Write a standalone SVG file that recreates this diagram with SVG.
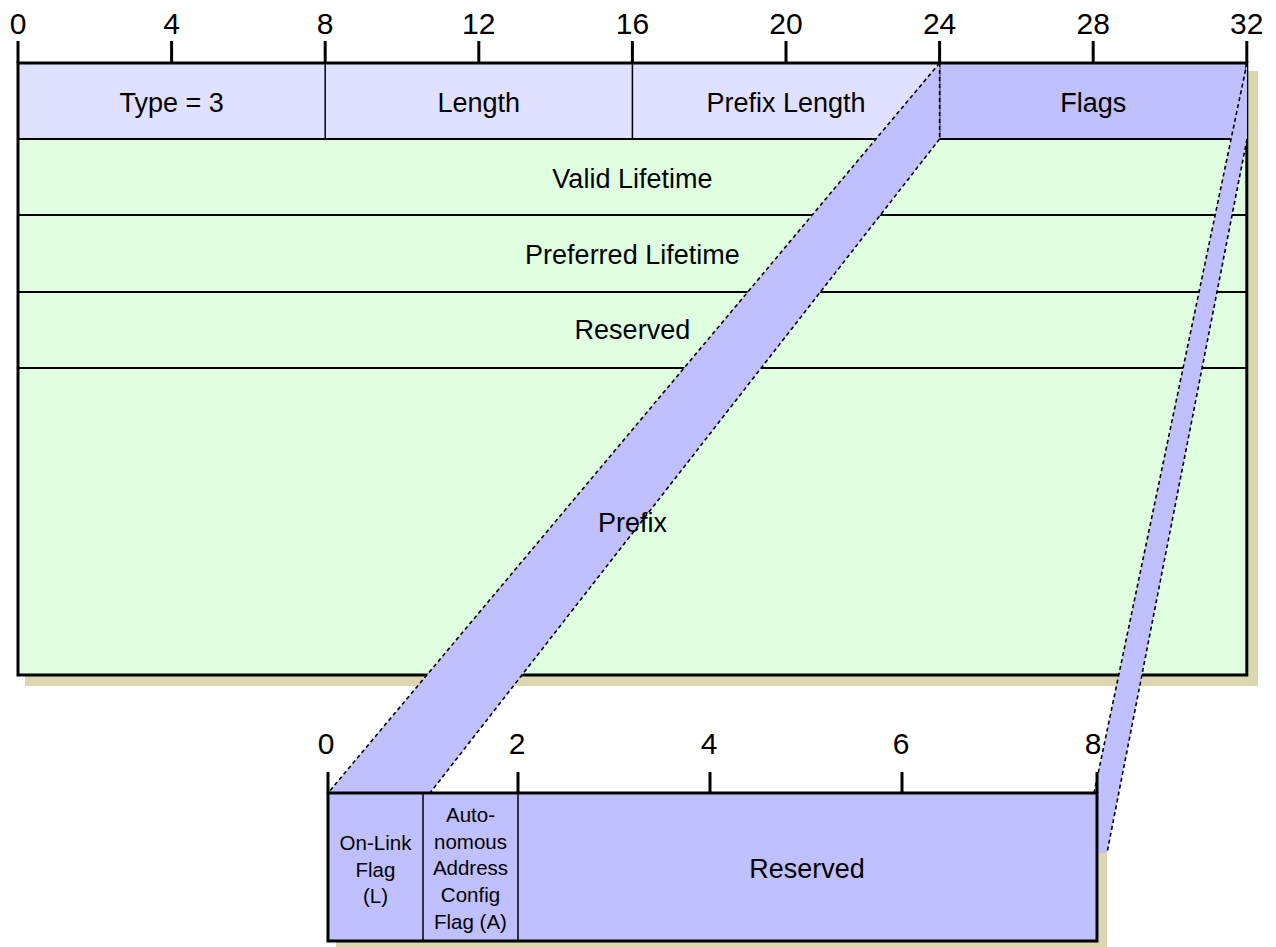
<svg xmlns="http://www.w3.org/2000/svg" width="1276" height="947" viewBox="0 0 1276 947">
<style>
text{font-family:"Liberation Sans",Arial,Helvetica,sans-serif;fill:#000;text-anchor:middle}
.num{font-size:30px}
.lbl{font-size:27px}
.sm{font-size:20.5px}
.shadow{fill:#dbd7b0}
.hdr{fill:#e0e0ff}
.flg{fill:#c0c0ff}
.row{fill:#e0ffe0}
.thin{stroke:#000;stroke-width:1.5;fill:none}
.rl{stroke:#000;stroke-width:2;fill:none}
.thick{stroke:#000;stroke-width:3;fill:none}
.tick{stroke:#000;stroke-width:3}
.band{fill:#c0c0ff;stroke:none}
.dash{stroke:#000;stroke-width:1.6;stroke-dasharray:4 3;fill:none}
</style>
<rect class="shadow" x="25" y="71" width="1233" height="615"/>
<rect class="shadow" x="336" y="801" width="771" height="160"/>
<g id="main-cells">
<rect class="hdr" x="18" y="63" width="921.6" height="76"/>
<rect class="flg" x="939.6" y="63" width="307.2" height="76"/>
<rect class="row" x="18" y="139" width="1228.8" height="536"/>
<line class="thin" x1="325.2" y1="63" x2="325.2" y2="139"/>
<line class="thin" x1="632.4" y1="63" x2="632.4" y2="139"/>
<line class="thin" x1="939.6" y1="63" x2="939.6" y2="139"/>
<line class="rl" x1="18" y1="139" x2="1247" y2="139"/>
<line class="rl" x1="18" y1="215" x2="1247" y2="215"/>
<line class="rl" x1="18" y1="292" x2="1247" y2="292"/>
<line class="rl" x1="18" y1="368" x2="1247" y2="368"/>
<rect class="thick" x="18" y="63" width="1228.8" height="612"/>
</g>
<g id="ruler-top">
<line class="tick" x1="18" y1="41" x2="18" y2="63"/>
<line class="tick" x1="171.6" y1="41" x2="171.6" y2="63"/>
<line class="tick" x1="325.2" y1="41" x2="325.2" y2="63"/>
<line class="tick" x1="478.8" y1="41" x2="478.8" y2="63"/>
<line class="tick" x1="632.4" y1="41" x2="632.4" y2="63"/>
<line class="tick" x1="786" y1="41" x2="786" y2="63"/>
<line class="tick" x1="939.6" y1="41" x2="939.6" y2="63"/>
<line class="tick" x1="1093.2" y1="41" x2="1093.2" y2="63"/>
<line class="tick" x1="1246.8" y1="41" x2="1246.8" y2="63"/>
<text class="num" x="18" y="34">0</text>
<text class="num" x="171.6" y="34">4</text>
<text class="num" x="325.2" y="34">8</text>
<text class="num" x="478.8" y="34">12</text>
<text class="num" x="632.4" y="34">16</text>
<text class="num" x="786" y="34">20</text>
<text class="num" x="939.6" y="34">24</text>
<text class="num" x="1093.2" y="34">28</text>
<text class="num" x="1246.8" y="34">32</text>
</g>
<g id="connectors">
<polygon class="band" points="939.6,63 939.6,139 430,793 328,793"/>
<line class="dash" x1="939.6" y1="63" x2="328" y2="793"/>
<line class="dash" x1="939.6" y1="139" x2="430" y2="793"/>
<line class="dash" x1="939.6" y1="63" x2="939.6" y2="139"/>
<polygon class="band" points="1247,63 1247,139 1107,853 1097,853 1097,793 1094,793"/>
<line class="dash" x1="1247" y1="63" x2="1094" y2="793"/>
<line class="dash" x1="1247" y1="139" x2="1107" y2="853"/>
</g>
<g id="field-type"><text class="lbl" x="171.6" y="112">Type = 3</text></g>
<g id="field-length"><text class="lbl" x="478.8" y="112">Length</text></g>
<g id="field-prefix-length"><text class="lbl" x="786" y="112">Prefix Length</text></g>
<g id="field-flags"><text class="lbl" x="1093.2" y="112">Flags</text></g>
<g id="field-valid"><text class="lbl" x="632.4" y="188">Valid Lifetime</text></g>
<g id="field-preferred"><text class="lbl" x="632.4" y="264">Preferred Lifetime</text></g>
<g id="field-reserved"><text class="lbl" x="632.4" y="339">Reserved</text></g>
<g id="field-prefix"><text class="lbl" x="632.4" y="532">Prefix</text></g>
<g id="flags-box">
<rect class="flg" x="328" y="793" width="769" height="148"/>
<line class="thin" x1="423" y1="793" x2="423" y2="941"/>
<line class="thin" x1="518" y1="793" x2="518" y2="941"/>
<rect class="thick" x="328" y="793" width="769" height="148"/>
<line class="tick" x1="328" y1="772" x2="328" y2="793"/>
<line class="tick" x1="518" y1="772" x2="518" y2="793"/>
<line class="tick" x1="710" y1="772" x2="710" y2="793"/>
<line class="tick" x1="902" y1="772" x2="902" y2="793"/>
<line class="tick" x1="1097" y1="772" x2="1097" y2="793"/>
<text class="num" x="326" y="754">0</text>
<text class="num" x="517" y="754">2</text>
<text class="num" x="709" y="754">4</text>
<text class="num" x="901" y="754">6</text>
<text class="num" x="1093" y="754">8</text>
</g>
<g id="flag-l"><text class="sm" x="375.5" y="850">On-Link</text><text class="sm" x="375.5" y="877">Flag</text><text class="sm" x="375.5" y="903">(L)</text></g>
<g id="flag-a"><text class="sm" x="470.5" y="822">Auto-</text><text class="sm" x="470.5" y="849">nomous</text><text class="sm" x="470.5" y="875">Address</text><text class="sm" x="470.5" y="902">Config</text><text class="sm" x="470.5" y="929">Flag (A)</text></g>
<g id="flags-reserved"><text class="lbl" x="807" y="878">Reserved</text></g>
</svg>
